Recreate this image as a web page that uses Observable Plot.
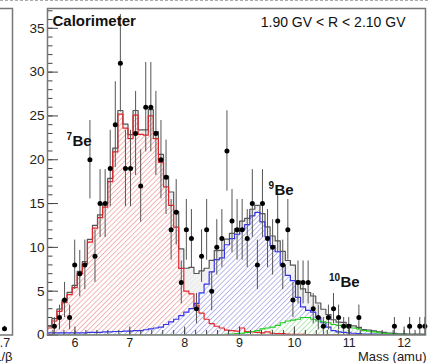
<!DOCTYPE html>
<html><head><meta charset="utf-8">
<script src="https://cdn.jsdelivr.net/npm/d3@7"></script>
<script src="https://cdn.jsdelivr.net/npm/@observablehq/plot@0.6"></script>
<style>
html,body{margin:0;padding:0;background:#fff;}
#wrap{position:relative;width:428px;height:363px;overflow:hidden;background:#fff;}
#main{position:absolute;left:0;top:0;width:428px;}
#frag{position:absolute;left:-60px;top:0;width:80px;}
#dash{position:absolute;left:0;top:0;width:428px;height:0;border-top:1px dashed #aaa;}
</style></head><body>
<div id="wrap"><div id="main"></div><div id="frag"></div><div id="dash"></div></div>
<script>
// ---- binning of the mass histogram (amu)
const massMin = 5.487;
const binWidth = 0.0925;
// ---- observed counts per bin (data points)
const dataCounts = [0,1,2,4,2,8,7,8,20,9, 15,15,19,24,31,19,19,23,17,26, 26,23,20,18,12,14,6,12,11,3,
  9,12,5,10,11,21,13,12,12,11, 15,8,15,11,10,13,8,12,4,6, 6,6,3,2,1,2,3,2,1,1,
  0,2,0,0,0,0,0,0,1,0, 0,1,0,1,1];
// ---- fitted template components per bin
const be7 = [0.8,1.6,2.7,3.7,4.6,5.4,7.0,8.1,10.6,12.2, 13.4,14.6,17.5,20.9,25.2,23.6,22.4,25.1,22.9,22.8,
  25.0,22.4,19.7,16.9,14.8,12.3,7.6,5.0,4.7,3.4, 2.5,1.8,1.3,1.0,0.8,0.55,0.5,0.45,0.8,0.4,
  0.35,0.3,0.25,0.35,0.2,0.15,0.15,0.1,0.08,0.07, 0.06,0.05,0.05,0.05,0.04,0.04,0.04,0.03,0.03,0.03,
  0.03,0.02,0.02,0.02,0.02,0.02,0.02,0.02,0.02,0.01, 0.01,0.01,0.01,0.01,0.01];
const be9 = [0.25,0.25,0.25,0.25,0.25,0.25,0.25,0.25,0.3,0.3, 0.3,0.35,0.35,0.4,0.4,0.45,0.45,0.5,0.5,0.6,
  0.7,0.8,0.9,1.2,1.5,1.8,2.2,2.6,3.0,3.6, 4.8,5.8,7.2,8.6,8.8,10.3,11.0,11.5,12.0,12.6,
  13.6,14.0,12.9,11.2,10.2,9.5,8.0,6.8,6.2,4.3, 3.2,2.8,2.6,2.0,1.4,0.9,0.5,0.35,0.3,0.25,
  0.2,0.15,0.1,0.1,0.1,0.08,0.08,0.06,0.06,0.05, 0.05,0.05,0.04,0.04,0.04];
const be10 = [0.02,0.02,0.02,0.02,0.02,0.02,0.02,0.02,0.02,0.02, 0.02,0.02,0.02,0.02,0.02,0.02,0.02,0.02,0.02,0.02,
  0.02,0.02,0.02,0.02,0.02,0.02,0.02,0.02,0.02,0.02, 0.02,0.02,0.02,0.02,0.05,0.08,0.1,0.15,0.2,0.3,
  0.4,0.5,0.7,0.8,0.9,1.1,1.4,1.6,1.7,1.8, 2.0,2.0,1.8,1.6,1.5,1.4,1.2,1.1,1.1,0.9,
  0.8,0.7,0.5,0.45,0.35,0.25,0.2,0.15,0.1,0.08, 0.06,0.05,0.05,0.04,0.04];
// ---- axes / labels
const xTicks = [6,7,8,9,10,11,12];
const yTicks = [0,5,10,15,20,25,30,35];
const detector = "Calorimeter";
const rigidityRange = "1.90 GV < R < 2.10 GV";
const xTitle = "Mass (amu)";
const isotopes = ["7","9","10"];
// ---- fragment of neighbouring panel (1/beta)
const fragInvBeta = [0.7075];
const fragCounts = [0.7];
const fragErr = [0.3];

const font = "'Liberation Sans', Arial, Helvetica, sans-serif";
const lo = k => massMin + k * binWidth;
const steps = vals => vals.flatMap((v, k) => [{x: lo(k), y: v}, {x: lo(k + 1), y: v}]);
const total = be7.map((v, k) => v + be9[k] + be10[k]);
const points = dataCounts.map((c, k) => ({x: lo(k) + binWidth / 2, y: c, e: Math.sqrt(c)})).filter(d => d.y > 0);

const main = Plot.plot({
  width: 428, height: 363,
  marginLeft: 47, marginRight: 3, marginTop: 8, marginBottom: 28.5,
  x: {domain: [5.5, 12.39]},
  y: {domain: [0, 37.26]},
  style: {fontFamily: font, background: "transparent", color: "#222", maxWidth: "none"},
  marks: [
    Plot.areaY(steps(total), {x: "x", y1: 0, y2: "y", fill: "url(#hGray)", clip: true}),
    Plot.areaY(steps(be7), {x: "x", y1: 0, y2: "y", fill: "url(#hRed)", clip: true}),
    Plot.areaY(steps(be9), {x: "x", y1: 0, y2: "y", fill: "url(#hBlue)", clip: true}),
    Plot.areaY(steps(be10), {x: "x", y1: 0, y2: "y", fill: "url(#hGreen)", clip: true}),
    Plot.line(steps(total), {x: "x", y: "y", stroke: "#555", strokeWidth: 1.2, clip: true}),
    Plot.line(steps(be7), {x: "x", y: "y", stroke: "#e3262b", strokeWidth: 1.2, clip: true}),
    Plot.line(steps(be9), {x: "x", y: "y", stroke: "#3535e6", strokeWidth: 1.2, clip: true}),
    Plot.line(steps(be10), {x: "x", y: "y", stroke: "#22cc22", strokeWidth: 1.2, clip: true}),
    Plot.ruleX(points, {x: "x", y1: d => d.y - d.e, y2: d => d.y + d.e, stroke: "#555", strokeWidth: 1, clip: true}),
    Plot.dot(points, {x: "x", y: "y", r: 2.5, fill: "#000", stroke: null}),
    // axes
    Plot.axisX(xTicks, {anchor: "bottom", tickSize: -8, tickFormat: () => "", label: null, stroke: "#444"}),
    Plot.axisX(d3.range(5.6, 12.39, 0.2), {anchor: "bottom", tickSize: -4.5, tickFormat: () => "", label: null, stroke: "#444"}),
    Plot.axisX(xTicks, {anchor: "bottom", tickSize: 0, tickPadding: 3, fontSize: 12.5, label: null}),
    Plot.axisY(yTicks, {anchor: "left", tickSize: -11, tickFormat: () => "", label: null, stroke: "#444"}),
    Plot.axisY(d3.range(0, 38, 1), {anchor: "left", tickSize: -5.5, tickFormat: () => "", label: null, stroke: "#444"}),
    Plot.axisY(yTicks, {anchor: "left", tickSize: 0, tickPadding: 3, fontSize: 13.5, label: null}),
    Plot.frame({stroke: "#777", strokeWidth: 1.5}),
    // texts
    Plot.text([detector], {text: d => d, frameAnchor: "top-left", dx: 5, dy: 17, textAnchor: "start", lineAnchor: "bottom", fontSize: 15, fontWeight: "bold", fill: "#111"}),
    Plot.text([rigidityRange], {text: d => d, frameAnchor: "top-right", dx: -20, dy: 18, textAnchor: "end", lineAnchor: "bottom", fontSize: 14, fill: "#111"}),
    Plot.text([xTitle], {text: d => d, frameAnchor: "bottom-right", dx: 1, dy: 25.5, textAnchor: "end", lineAnchor: "bottom", fontSize: 13, fill: "#222"}),
    // isotope tags: "Be" + superscript mass number
    Plot.text(["Be", "Be", "Be"], {x: [5.956, 9.638, 10.841], y: [21.62, 15.92, 5.47], text: d => d, textAnchor: "start", lineAnchor: "bottom", fontSize: 15, fontWeight: "bold", fill: "#111"}),
    Plot.text(isotopes, {x: [5.956, 9.638, 10.841], y: [21.62, 15.92, 5.47], text: d => d, textAnchor: "end", lineAnchor: "bottom", dx: -0.5, dy: -6, fontSize: 10, fontWeight: "bold", fill: "#111"})
  ]
});
d3.select(main).insert("defs", ":first-child").html(`
<pattern id="hRed" patternUnits="userSpaceOnUse" width="3.6" height="3.6" patternTransform="rotate(45)">
  <rect width="3.6" height="3.6" fill="#fff"/><line x1="0" y1="0" x2="0" y2="3.6" stroke="#ea6f6f" stroke-width="1"/></pattern>
<pattern id="hBlue" patternUnits="userSpaceOnUse" width="3.6" height="3.6" patternTransform="rotate(45)">
  <rect width="3.6" height="3.6" fill="#fff"/><line x1="0" y1="0" x2="0" y2="3.6" stroke="#7676d6" stroke-width="1"/></pattern>
<pattern id="hGreen" patternUnits="userSpaceOnUse" width="3.6" height="3.6" patternTransform="rotate(45)">
  <rect width="3.6" height="3.6" fill="#fff"/><line x1="0" y1="0" x2="0" y2="3.6" stroke="#72d072" stroke-width="1"/></pattern>
<pattern id="hGray" patternUnits="userSpaceOnUse" width="3.6" height="3.6" patternTransform="rotate(45)">
  <rect width="3.6" height="3.6" fill="#f4f4f4"/><line x1="0" y1="0" x2="0" y2="3.6" stroke="#dddddd" stroke-width="1"/></pattern>
`);
document.getElementById("main").appendChild(main);

const fragPts = fragInvBeta.map((x, i) => ({x, y: fragCounts[i], e: fragErr[i]}));
const frag = Plot.plot({
  width: 80, height: 363,
  marginLeft: 8, marginRight: 8, marginTop: 8, marginBottom: 28.5,
  x: {domain: [0.5675, 0.7275]},
  y: {domain: [0, 37.26], axis: null},
  style: {fontFamily: font, background: "transparent", color: "#222", maxWidth: "none"},
  marks: [
    Plot.frame({stroke: "#777", strokeWidth: 1.5}),
    Plot.ruleX(fragPts, {x: "x", y1: d => d.y - d.e, y2: d => d.y + d.e, stroke: "#444"}),
    Plot.dot(fragPts, {x: "x", y: "y", r: 2.5, fill: "#000", stroke: null}),
    Plot.axisX([0.7], {anchor: "bottom", tickSize: 0, tickPadding: 3, fontSize: 12.5, tickFormat: d3.format(".1f"), label: null}),
    Plot.text(["1/β"], {text: d => d, frameAnchor: "bottom-right", dx: 0, dy: 26, textAnchor: "end", lineAnchor: "bottom", fontSize: 13, fill: "#222"})
  ]
});
document.getElementById("frag").appendChild(frag);
</script>
</body></html>
